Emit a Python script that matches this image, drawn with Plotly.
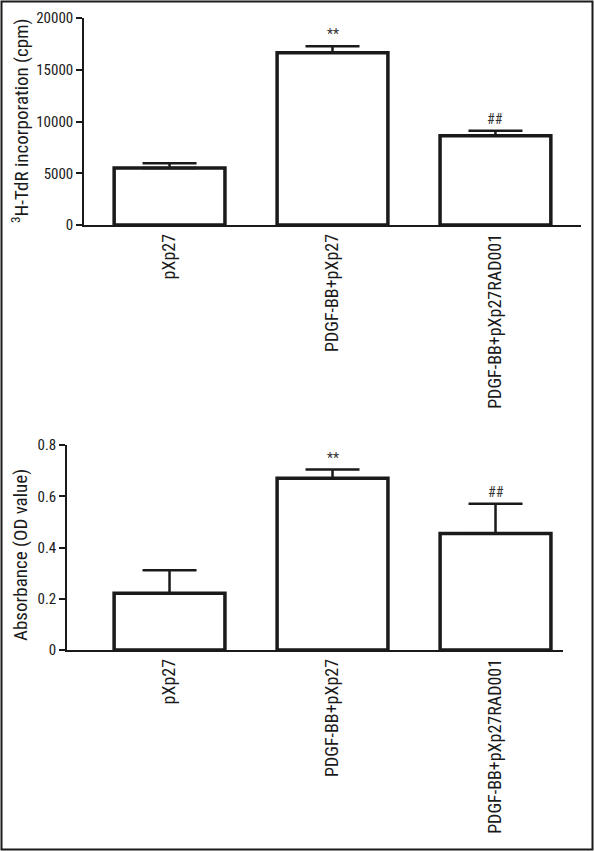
import plotly.graph_objects as go

categories = ["pXp27", "PDGF-BB+pXp27", "PDGF-BB+pXp27RAD001"]
tdr_mean = [5500, 16650, 8630]
tdr_err = [460, 610, 480]
od_mean = [0.221, 0.670, 0.455]
od_err = [0.090, 0.034, 0.116]
sig_labels = ["", "**", "##"]
tdr_ticks = [0, 5000, 10000, 15000, 20000]
tdr_ticktext = ["0", "5000", "10000", "15000", "20000"]
od_ticks = [0, 0.2, 0.4, 0.6, 0.8]
od_ticktext = ["0", "0.2", "0.4", "0.6", "0.8"]

FONT = "Liberation Sans Narrow, Roboto Condensed, Arial Narrow, sans-serif"
W, H = 594, 851
INK = "#1a1a1a"

fig = go.Figure()

def add_bars(means, errs, xa, ya):
    fig.add_trace(go.Bar(
        x=categories, y=means, xaxis=xa, yaxis=ya, width=0.68,
        marker=dict(color="white", line=dict(color=INK, width=3.5)),
        error_y=dict(type="data", array=errs, arrayminus=[0] * len(errs), symmetric=False,
                     color=INK, thickness=2.5, width=27),
        showlegend=False,
    ))

add_bars(tdr_mean, tdr_err, "x", "y")
add_bars(od_mean, od_err, "x2", "y2")

axis_common = dict(showline=True, linecolor=INK, linewidth=1.5, showgrid=False,
                   zeroline=False, automargin=False)
ytick_font = dict(family=FONT, size=15, color=INK)
xtick_font = dict(family=FONT, size=18, color=INK)

fig.update_layout(
    width=W, height=H, margin=dict(l=0, r=0, t=0, b=0, autoexpand=False),
    paper_bgcolor="white", plot_bgcolor="white",
    font=dict(family=FONT, color=INK),
    xaxis=dict(domain=[84 / W, 581 / W], anchor="y", range=[-0.525, 2.525],
               ticks="", tickangle=-90, tickfont=xtick_font, **axis_common),
    yaxis=dict(domain=[1 - 225 / H, 1 - 18 / H], anchor="x", range=[0, 20000],
               tickvals=tdr_ticks, ticktext=tdr_ticktext, ticks="outside", ticklen=6,
               tickwidth=1.5, tickcolor=INK, tickfont=ytick_font, **axis_common),
    xaxis2=dict(domain=[67 / W, 563 / W], anchor="y2", range=[-0.629, 2.414],
                ticks="", tickangle=-90, tickfont=xtick_font, **axis_common),
    yaxis2=dict(domain=[1 - 650 / H, 1 - 445 / H], anchor="x2", range=[0, 0.8],
                tickvals=od_ticks, ticktext=od_ticktext, ticks="outside", ticklen=6,
                tickwidth=1.5, tickcolor=INK, tickfont=ytick_font, **axis_common),
)

# y-axis titles
fig.add_annotation(text="<sup>3</sup>H-TdR incorporation (cpm)", xref="paper", yref="paper",
                   x=20 / W, y=1 - 121 / H, xanchor="center", yanchor="middle",
                   textangle=-90, showarrow=False,
                   font=dict(family=FONT, size=19, color=INK))
fig.add_annotation(text="Absorbance (OD value)", xref="paper", yref="paper",
                   x=20 / W, y=1 - 555 / H, xanchor="center", yanchor="middle",
                   textangle=-90, showarrow=False,
                   font=dict(family=FONT, size=19, color=INK))

# significance markers
for i, lab in enumerate(sig_labels):
    if not lab:
        continue
    fig.add_annotation(text=lab, x=categories[i], y=tdr_mean[i] + tdr_err[i], xref="x", yref="y",
                       yanchor="bottom", yshift=2, showarrow=False,
                       font=dict(family=FONT, size=14, color="#333333"))
    fig.add_annotation(text=lab, x=categories[i], y=od_mean[i] + od_err[i], xref="x2", yref="y2",
                       yanchor="bottom", yshift=2, showarrow=False,
                       font=dict(family=FONT, size=14, color="#333333"))

# outer frame
fig.add_shape(type="rect", xref="paper", yref="paper", x0=1.5 / W, x1=1 - 1.5 / W,
              y0=1.5 / H, y1=1 - 1.5 / H, line=dict(color=INK, width=2))

fig.write_html("out.html", config={"displayModeBar": False},
               post_script="document.body.style.margin='0px';document.body.style.padding='0px';")
